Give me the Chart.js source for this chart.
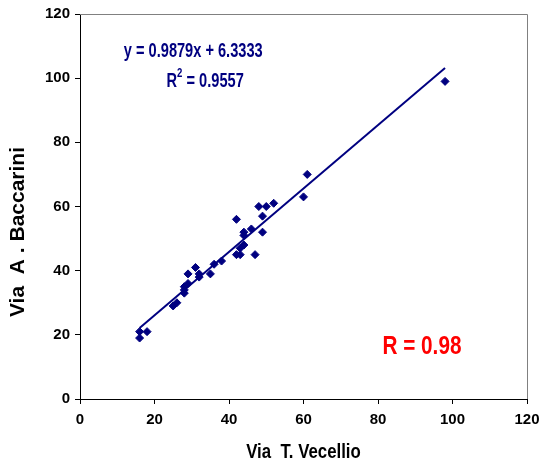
<!DOCTYPE html>
<html>
<head>
<meta charset="utf-8">
<script src="https://cdn.jsdelivr.net/npm/chart.js@4.4.1/dist/chart.umd.min.js"></script>
<style>
  html, body { margin: 0; padding: 0; background: #fff; }
  #wrap { width: 539px; height: 468px; }
</style>
</head>
<body>
<div id="wrap"><canvas id="chart" width="539" height="468"></canvas></div>
<script>
// Via T. Vecellio (x) vs Via A. Baccarini (y)
const vecellio  = [16, 16, 18, 25, 26, 28, 28, 28, 29, 29, 31, 32, 32, 35, 36, 38, 42, 43, 42, 43, 44, 44, 44, 46, 47, 48, 49, 49, 50, 52, 60, 61, 98];
const baccarini = [21, 19, 21, 29, 30, 33, 34, 35, 36, 39, 41, 39, 38, 39, 42, 43, 45, 45, 56, 47, 48, 51, 52, 53, 45, 60, 57, 52, 60, 61, 63, 70, 99];

// linear fit shown on the chart
const slope = 0.9879;
const intercept = 6.3333;
const eqLabel = 'y = 0.9879x + 6.3333';
const r2Label = '0.9557';
const rLabel = 'R = 0.98';
const xTitle = 'Via  T. Vecellio';
const yTitle = 'Via  A . Baccarini';

const NAVY = '#000080';
const FONT = "'Liberation Sans', Arial, sans-serif";

const points = vecellio.map((x, i) => ({ x: x, y: baccarini[i] }));
const xMin = Math.min(...vecellio);
const xMax = Math.max(...vecellio);
const fitLine = [xMin, xMax].map(x => ({ x: x, y: slope * x + intercept }));

// text squeezed horizontally, like the narrow Excel font
function squeezed(ctx, text, x, y, size, color, sx, align) {
    ctx.save();
    ctx.translate(x, y);
    ctx.scale(sx, 1);
    ctx.font = 'bold ' + size + 'px ' + FONT;
    ctx.fillStyle = color;
    ctx.textAlign = align || 'center';
    ctx.textBaseline = 'middle';
    ctx.fillText(text, 0, 0);
    ctx.restore();
}

const extras = {
    id: 'extras',
    afterDraw(chart) {
        const { ctx, chartArea: a, scales } = chart;
        const sx = scales.x, sy = scales.y;
        ctx.save();
        // grey frame on top and right
        ctx.strokeStyle = '#808080';
        ctx.lineWidth = 1;
        ctx.beginPath();
        ctx.moveTo(a.left, a.top + 0.5);
        ctx.lineTo(a.right + 0.5, a.top + 0.5);
        ctx.lineTo(a.right + 0.5, a.bottom);
        ctx.stroke();
        ctx.restore();

        // axis titles
        squeezed(ctx, xTitle, (a.left + a.right) / 2, 452, 21, '#000', 0.8);
        ctx.save();
        ctx.translate(18, 232);
        ctx.rotate(-Math.PI / 2);
        squeezed(ctx, yTitle, 0, 0, 21, '#000', 1.0);
        ctx.restore();

        // regression equation
        squeezed(ctx, eqLabel, sx.getPixelForValue(30.4), sy.getPixelForValue(108.2), 20, NAVY, 0.73);

        // R^2 with superscript
        ctx.save();
        ctx.font = 'bold 20px ' + FONT;
        const wA = ctx.measureText('R').width * 0.73;
        const wB = ctx.measureText(' = ' + r2Label).width * 0.73;
        ctx.font = 'bold 12px ' + FONT;
        const wS = ctx.measureText('2').width * 0.8;
        ctx.restore();
        const rx = sx.getPixelForValue(33.6), ry = sy.getPixelForValue(99.1);
        const start = rx - (wA + wS + wB) / 2;
        squeezed(ctx, 'R', start, ry, 20, NAVY, 0.73, 'left');
        squeezed(ctx, '2', start + wA, ry - 7, 12, NAVY, 0.8, 'left');
        squeezed(ctx, ' = ' + r2Label, start + wA + wS, ry, 20, NAVY, 0.73, 'left');

        // correlation coefficient
        squeezed(ctx, rLabel, sx.getPixelForValue(91.8), sy.getPixelForValue(16.3), 25, '#ff0000', 0.83);
    }
};

new Chart(document.getElementById('chart'), {
    type: 'scatter',
    data: {
        datasets: [{
            label: 'dati',
            data: points,
            pointStyle: 'rectRot',
            pointRadius: 4,
            backgroundColor: NAVY,
            borderColor: NAVY,
            borderWidth: 1
        }, {
            label: 'fit',
            type: 'line',
            data: fitLine,
            borderColor: NAVY,
            borderWidth: 2,
            pointRadius: 0,
            fill: false
        }]
    },
    options: {
        responsive: false,
        animation: false,
        layout: { padding: { top: 13, right: 12, bottom: 0, left: 0 } },
        plugins: {
            legend: { display: false },
            tooltip: { enabled: false }
        },
        scales: {
            x: {
                type: 'linear',
                min: 0, max: 120,
                afterFit: s => { s.height = 69; s.paddingRight = 0; s.paddingLeft = 0; },
                border: { color: '#000', width: 1 },
                grid: { drawOnChartArea: false, tickLength: 5, color: '#000' },
                ticks: {
                    stepSize: 20, color: '#000', padding: 7,
                    font: { family: FONT, size: 15, weight: 'bold' }
                }
            },
            y: {
                type: 'linear',
                min: 0, max: 120,
                afterFit: s => { s.width = 80; },
                border: { color: '#000', width: 1 },
                grid: { drawOnChartArea: false, tickLength: 5, color: '#000' },
                ticks: {
                    stepSize: 20, color: '#000', padding: 5,
                    font: { family: FONT, size: 15, weight: 'bold' }
                }
            }
        }
    },
    plugins: [extras]
});
</script>
</body>
</html>
